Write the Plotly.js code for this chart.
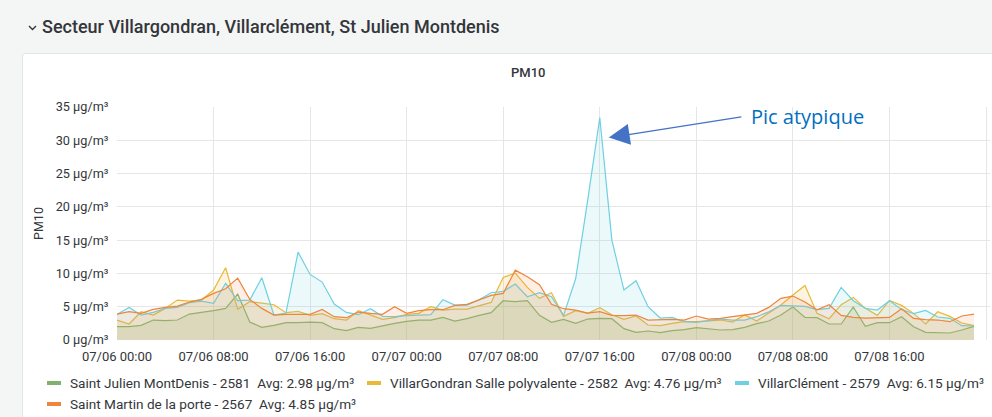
<!DOCTYPE html>
<html>
<head>
<meta charset="utf-8">
<script src="https://cdn.plot.ly/plotly-3.0.1.min.js"></script>
<style>
  html, body { margin:0; padding:0; background:#f4f5f5; }
  #panel { position:absolute; left:22px; top:53px; width:1000px; height:400px; background:#ffffff; border:1px solid #e2e4e6; border-radius:3px; }
  #chart { position:absolute; left:0; top:0; width:992px; height:417px; }
</style>
</head>
<body>
<div id="panel"></div>
<div id="chart"></div>
<script>
// ---- data (hourly PM10, µg/m³) ----
const startTime = '2020-07-06T00:00:00';
const seriesNames = [
  'Saint Julien MontDenis - 2581',
  'VillarGondran Salle polyvalente - 2582',
  'VillarClément - 2579',
  'Saint Martin de la porte - 2567'
];
const seriesAvg = ['Avg: 2.98 µg/m³', 'Avg: 4.76 µg/m³', 'Avg: 6.15 µg/m³', 'Avg: 4.85 µg/m³'];
const saintJulien = [2.0,2.0,2.2,3.0,2.9,3.0,3.9,4.1,4.4,4.75,6.9,2.7,1.9,2.2,2.6,2.6,2.7,2.6,1.7,1.4,1.9,1.75,2.15,2.5,
  2.8,3.0,3.0,3.4,2.85,3.2,3.7,4.1,5.9,5.75,5.9,3.7,2.65,3.1,2.5,3.15,3.25,3.2,1.7,1.15,1.35,1.1,1.4,1.55,
  1.85,1.65,1.5,1.55,1.9,2.45,2.85,3.75,4.95,3.4,3.35,2.4,2.4,4.95,2.05,2.6,2.6,3.5,2.0,1.15,1.15,1.05,1.5,2.05];
const villarGondran = [3.0,2.4,4.25,3.75,4.75,6.0,5.85,6.0,7.5,10.85,4.6,5.75,5.55,5.3,4.1,4.3,3.7,3.95,3.2,3.0,4.4,3.75,3.1,3.35,
  3.85,4.0,5.0,4.5,4.65,4.65,5.1,5.65,9.4,10.05,7.9,6.25,7.1,3.55,4.4,4.0,4.85,3.8,3.1,3.6,2.25,2.15,2.5,2.75,
  2.75,2.85,3.0,2.7,3.75,2.85,4.0,5.25,6.75,8.2,4.0,3.2,5.3,6.4,4.75,3.7,5.95,5.2,4.0,2.4,4.25,3.55,2.55,2.15];
const villarClement = [3.85,4.9,3.75,4.15,4.75,4.9,5.6,5.85,5.5,8.5,5.9,6.0,9.35,3.75,4.05,13.2,9.85,8.7,5.4,4.15,3.8,4.7,3.55,3.5,
  3.65,3.75,3.8,6.05,5.25,5.25,6.05,7.1,7.3,8.4,6.5,7.1,6.5,3.7,9.2,21.0,33.4,15.0,7.5,8.9,5.0,3.3,3.4,2.75,
  2.65,2.9,3.15,3.0,3.0,3.5,4.25,5.2,5.1,5.05,4.55,4.75,7.9,5.9,4.75,4.5,5.9,4.6,3.95,4.45,3.45,3.25,2.15,2.1];
const saintMartin = [3.9,4.25,4.0,4.6,4.9,5.1,5.7,6.1,7.0,7.7,9.3,6.1,4.75,3.75,3.85,3.85,3.85,4.6,3.5,3.35,4.2,4.0,3.85,5.0,
  4.0,4.4,4.55,4.55,5.2,5.35,6.05,6.7,7.0,10.5,9.5,8.3,5.35,4.7,4.5,4.05,4.25,3.7,3.65,3.75,3.0,3.1,3.1,3.0,
  3.6,3.15,3.25,3.5,3.8,4.0,4.9,6.25,6.6,5.7,4.55,5.3,3.7,3.4,3.3,3.35,3.4,4.7,3.25,3.05,3.0,2.75,3.6,3.9];
const yTickVals = [0,5,10,15,20,25,30,35];
const yTickText = ['0 µg/m³','5 µg/m³','10 µg/m³','15 µg/m³','20 µg/m³','25 µg/m³','30 µg/m³','35 µg/m³'];

// ---- helpers ----
const t0 = new Date(startTime + 'Z').getTime();
function ts(h){ const d = new Date(t0 + h*3600000); return d.toISOString().slice(0,19).replace('T',' '); }
const times = saintJulien.map((_, i) => ts(i));

const colors = ['#7EB26D', '#EAB839', '#6ED0E0', '#EF843C'];
const fills = ['rgba(126,178,109,0.16)', 'rgba(234,184,57,0.15)', 'rgba(110,208,224,0.13)', 'rgba(239,132,60,0.13)'];
const values = [saintJulien, villarGondran, villarClement, saintMartin];

const traces = values.map((v, i) => ({
  type: 'scatter', mode: 'lines', x: times, y: v, name: seriesNames[i],
  line: { color: colors[i], width: 1.2 }, fill: 'tozeroy', fillcolor: fills[i],
  showlegend: false, hoverinfo: 'x+y+name'
}));

const L = 117, R = 990, T = 107, B = 340;
function px(x){ return (x - L) / (R - L); }
function py(y){ return (B - y) / (B - T); }

const font = 'Roboto, "Open Sans", sans-serif';
const annotations = [
  { text: 'Secteur Villargondran, Villarclément, St Julien Montdenis', xref: 'paper', yref: 'paper',
    x: px(40), y: py(27), xanchor: 'left', yanchor: 'middle', showarrow: false,
    font: { family: font, size: 18, color: '#33363a', weight: 500 } },
  { text: 'PM10', xref: 'paper', yref: 'paper', x: px(528), y: py(72), xanchor: 'center', yanchor: 'middle',
    showarrow: false, font: { family: font, size: 13, color: '#33363a', weight: 500 } },
  { text: 'Pic atypique', xref: 'x', yref: 'y', x: ts(52.4), y: 33.6, xanchor: 'left', yanchor: 'middle',
    showarrow: false, font: { family: '"Open Sans", sans-serif', size: 20, color: '#0070C0' } },
  { text: '', xref: 'x', yref: 'y', x: ts(40.75), y: 30.4, showarrow: true, ax: 134, ay: -21,
    arrowhead: 2, arrowsize: 3.2, arrowwidth: 1.3, arrowcolor: '#4472C4', standoff: 0 }
];
const shapes = [
  { type: 'path', xref: 'paper', yref: 'paper',
    path: `M ${px(29)} ${py(26)} L ${px(32.5)} ${py(29.5)} L ${px(36)} ${py(26)}`,
    line: { color: '#33363a', width: 1.4 } }
];
const legendPos = [ [47, 383], [367, 383], [735, 383], [47, 404] ];
legendPos.forEach((p, i) => {
  shapes.push({ type: 'rect', xref: 'paper', yref: 'paper', x0: px(p[0]), x1: px(p[0] + 14), y0: py(p[1] + 2), y1: py(p[1] - 2),
    fillcolor: colors[i], line: { width: 0 } });
  annotations.push({ text: seriesNames[i] + '&nbsp;&nbsp;' + seriesAvg[i], xref: 'paper', yref: 'paper',
    x: px(p[0] + 21), y: py(p[1]), xanchor: 'left', yanchor: 'middle', showarrow: false,
    font: { family: font, size: 13.6, color: '#33363a' } });
});

const layout = {
  width: 992, height: 417, autosize: false,
  margin: { l: L, r: 992 - R, t: T, b: 417 - B, pad: 0 },
  paper_bgcolor: 'rgba(0,0,0,0)', plot_bgcolor: 'rgba(0,0,0,0)',
  font: { family: font, size: 13, color: '#33363a' },
  xaxis: {
    type: 'date', range: [ts(0), ts(72.33)], tickformat: '%m/%d %H:%M', dtick: 8 * 3600000, tick0: ts(0),
    showgrid: true, gridcolor: '#e6e6e6', gridwidth: 1, zeroline: false, showline: false,
    ticks: 'outside', ticklen: 4, tickcolor: 'rgba(0,0,0,0)', tickfont: { size: 13, color: '#33363a' }
  },
  yaxis: {
    range: [0, 35], tickvals: yTickVals, ticktext: yTickText, showgrid: true, gridcolor: '#e6e6e6',
    zeroline: false, showline: false, ticks: 'outside', ticklen: 5, tickcolor: 'rgba(0,0,0,0)',
    tickfont: { size: 12.7, color: '#33363a' },
    title: { text: 'PM10', font: { size: 12.5, color: '#33363a' }, standoff: 9 }
  },
  annotations: annotations, shapes: shapes, showlegend: false
};

Plotly.newPlot('chart', traces, layout, { displayModeBar: false, staticPlot: true });
</script>
</body>
</html>
